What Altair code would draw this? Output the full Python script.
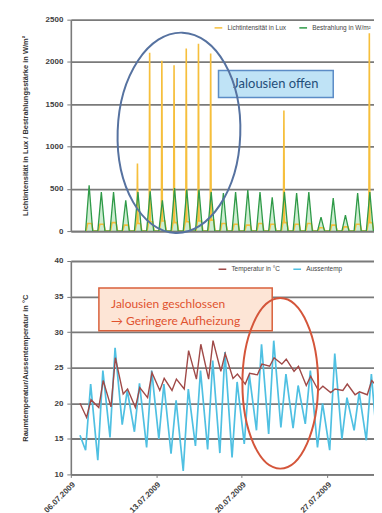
import altair as alt
import pandas as pd
from datetime import datetime, timedelta

START = datetime(2009, 7, 6)

# ---------------- top panel: light / irradiance (daily values) ----------------
light_days = list(range(1, 25))
irr_peak = [540, 460, 460, 365, 460, 470, 365, 510, 490, 490, 460, 450,
            460, 485, 460, 400, 460, 450, 460, 165, 390, 190, 450, 460]
lux_base = [90, 80, 100, 70, 90, 110, 120, 100, 110, 120, 130, 90,
            80, 70, 90, 80, 100, 80, 90, 40, 70, 50, 80, 100]
lux_spike_day = [5, 6, 7, 8, 9, 10, 11, 17, 24]
lux_spike_val = [800, 2110, 2015, 1960, 2160, 2215, 2100, 1427, 2340]

# ---------------- bottom panel: temperatures (daily min / max) ----------------
temp_days = list(range(1, 25))
out_min = [13.4, 12.0, 15.2, 17.0, 16.0, 13.8, 15.0, 12.9, 10.5, 14.0, 13.5, 13.0,
           12.4, 14.3, 16.2, 15.7, 16.6, 16.5, 17.1, 13.8, 13.4, 15.0, 16.2, 14.8]
out_max = [22.7, 24.6, 27.8, 21.8, 22.8, 24.6, 22.7, 20.4, 22.0, 24.6, 26.0, 27.2,
           23.0, 24.0, 28.3, 28.8, 24.1, 22.5, 24.6, 20.0, 27.0, 20.8, 21.5, 24.1]
in_min = [18.0, 19.4, 19.5, 21.3, 19.4, 20.8, 21.8, 21.8, 22.0, 23.4, 23.4, 24.5,
          23.5, 22.7, 24.0, 25.2, 25.5, 24.5, 22.5, 21.8, 21.5, 21.8, 21.2, 21.2]
in_max = [20.5, 23.2, 26.4, 22.0, 22.2, 24.3, 23.5, 23.4, 27.4, 28.3, 28.8, 27.0,
          24.1, 24.2, 25.5, 26.4, 26.2, 25.2, 23.8, 22.4, 22.0, 22.7, 21.6, 23.2]
out_start, in_start = 15.5, 20.0
out_tail, in_tail = 12.0, 22.0

LUX = "Lichtintensität in Lux"
IRR = "Bestrahlung in W/m²"
TIN = "Temperatur in °C"
TOUT = "Aussentemp"

tick_days = [6, 13, 20, 27]          # July 2009
top_ticks = [0, 500, 1000, 1500, 2000, 2500]
bot_ticks = [10, 15, 20, 25, 30, 35, 40]

# annotations (data coordinates)
ann_top = {"t": 16.8, "v": 1740, "t1": 12.1, "t2": 21.5, "v1": 1900, "v2": 1580,
           "text": "Jalousien offen"}
ann_bot = {"t": 3.3, "t1": 2.3, "t2": 16.5, "v1": 36.2, "v2": 30.2,
           "lines": ["Jalousien geschlossen", "→ Geringere Aufheizung"], "lv": [34.0, 31.6]}
ell_top = {"t": 8.86, "v": 1162}
ell_bot = {"t": 17.16, "v": 22.8}


def ts(d):
    return START + timedelta(days=d)


spikes = dict(zip(lux_spike_day, lux_spike_val))
lux_rows, irr_rows = [], []
for d, base, peak in zip(light_days, lux_base, irr_peak):
    sp = spikes.get(d, base)
    for off, val in [(0.25, 0), (0.375, base), (0.42, base), (0.458, sp),
                     (0.50, base), (0.70, base), (0.83, 0)]:
        lux_rows.append({"t": ts(d + off), "v": val, "s": LUX})
    for off, val in [(0.21, 0), (0.5, peak), (0.79, 0)]:
        irr_rows.append({"t": ts(d + off), "v": val, "s": IRR})
lux_df = pd.DataFrame(lux_rows)
irr_df = pd.DataFrame(irr_rows)

out_rows = [{"t": ts(0.75), "v": out_start, "s": TOUT}]
in_rows = [{"t": ts(0.75), "v": in_start, "s": TIN}]
for d, a, b, c, e in zip(temp_days, out_min, out_max, in_min, in_max):
    out_rows += [{"t": ts(d + 0.21), "v": a, "s": TOUT}, {"t": ts(d + 0.625), "v": b, "s": TOUT}]
    in_rows += [{"t": ts(d + 0.29), "v": c, "s": TIN}, {"t": ts(d + 0.65), "v": e, "s": TIN}]
out_rows.append({"t": ts(25.21), "v": out_tail, "s": TOUT})
in_rows.append({"t": ts(25.29), "v": in_tail, "s": TIN})
out_df = pd.DataFrame(out_rows)
in_df = pd.DataFrame(in_rows)

x_dom = [alt.DateTime(year=2009, month=7, date=6),
         alt.DateTime(year=2009, month=7, date=30, hours=20, minutes=10)]
x_scale = alt.Scale(domain=x_dom)

W, H1, H2 = 304, 212, 214
FONT = "Liberation Sans"

# ---------------- top panel ----------------
top_axis = alt.Axis(values=top_ticks, format="d", labelOverlap=False,
                    title="Lichtintensität in Lux / Bestrahlungsstärke in W/m²", titleX=-41)
top_yscale = alt.Scale(domain=[0, 2500])
top_xaxis = alt.Axis(labels=False, ticks=False, grid=False, title=None)
top_color = alt.Color("s:N", scale=alt.Scale(domain=[LUX, IRR], range=["#f6bf3c", "#2f9a48"]),
                      legend=alt.Legend(orient="none", legendX=143, legendY=3, direction="horizontal",
                                        title=None, symbolType="stroke", symbolSize=60,
                                        symbolStrokeWidth=1.5, labelFontSize=6.5, labelFont=FONT,
                                        labelColor="#444", columnPadding=10, labelLimit=300))
y_top = alt.Y("v:Q", scale=top_yscale, axis=top_axis)
x_top = alt.X("t:T", scale=x_scale, axis=top_xaxis)

irr_area = alt.Chart(irr_df).mark_area(color="#93d69b", opacity=0.45, clip=True).encode(x=x_top, y=y_top)
lux_line = alt.Chart(lux_df).mark_line(strokeWidth=1.6, clip=True).encode(x=x_top, y=y_top, color=top_color)
irr_line = alt.Chart(irr_df).mark_line(strokeWidth=1.3, clip=True).encode(x=x_top, y=y_top, color=top_color)

ann_top_df = pd.DataFrame([{"t": ts(ann_top["t"]), "v": ann_top["v"], "t1": ts(ann_top["t1"]),
                            "t2": ts(ann_top["t2"]), "v1": ann_top["v1"], "v2": ann_top["v2"],
                            "text": ann_top["text"]}])
box_top = alt.Chart(ann_top_df).mark_rect(fill="#bfe3f6", stroke="#5b8cc6", strokeWidth=1.5).encode(
    x=alt.X("t1:T", scale=x_scale, axis=top_xaxis), x2="t2:T",
    y=alt.Y("v1:Q", scale=top_yscale, axis=top_axis), y2="v2:Q")
txt_top = alt.Chart(ann_top_df).mark_text(font="Lato", fontSize=13, color="#1f4e79",
                                          align="center", baseline="middle").encode(
    x=x_top, y=y_top, text="text:N")
ell_top_df = pd.DataFrame([{"t": ts(ell_top["t"]), "v": ell_top["v"]}])
ellipse_top = alt.Chart(ell_top_df).mark_point(
    shape="M -0.612,0 A 0.612,1 0 1,1 0.612,0 A 0.612,1 0 1,1 -0.612,0 Z",
    size=40401, angle=2, stroke="#5672a0", strokeWidth=2, filled=False, opacity=1).encode(x=x_top, y=y_top)

top = alt.layer(irr_area, lux_line, irr_line, box_top, txt_top, ellipse_top).properties(width=W, height=H1)

# ---------------- bottom panel ----------------
bot_axis = alt.Axis(values=bot_ticks, format="d", labelOverlap=False,
                    title="Raumtemperatur/Aussentemperatur in °C", titleX=-41)
bot_yscale = alt.Scale(domain=[10, 40])
bot_xaxis = alt.Axis(values=[alt.DateTime(year=2009, month=7, date=d) for d in tick_days],
                     format="%d.%m.%Y", labelAngle=-45, labelAlign="right", labelBaseline="top",
                     grid=False, title=None, tickSize=3, labelPadding=3, labelOverlap=False)
bot_color = alt.Color("s:N", scale=alt.Scale(domain=[TIN, TOUT], range=["#a04a48", "#4fc0e2"]),
                      legend=alt.Legend(orient="none", legendX=147, legendY=3, direction="horizontal",
                                        title=None, symbolType="stroke", symbolSize=60,
                                        symbolStrokeWidth=1.5, labelFontSize=6.5, labelFont=FONT,
                                        labelColor="#444", columnPadding=10, labelLimit=300))
y_bot = alt.Y("v:Q", scale=bot_yscale, axis=bot_axis)
x_bot = alt.X("t:T", scale=x_scale, axis=bot_xaxis)

out_line = alt.Chart(out_df).mark_line(strokeWidth=1.7, clip=True).encode(x=x_bot, y=y_bot, color=bot_color)
in_line = alt.Chart(in_df).mark_line(strokeWidth=1.4, clip=True).encode(x=x_bot, y=y_bot, color=bot_color)

ann_bot_df = pd.DataFrame([{"t1": ts(ann_bot["t1"]), "t2": ts(ann_bot["t2"]),
                            "v1": ann_bot["v1"], "v2": ann_bot["v2"]}])
ann_bot_txt = pd.DataFrame([{"t": ts(ann_bot["t"]), "v": v, "text": s}
                            for s, v in zip(ann_bot["lines"], ann_bot["lv"])])
box_bot = alt.Chart(ann_bot_df).mark_rect(fill="#fde5d6", stroke="#d9603b", strokeWidth=1.5).encode(
    x=alt.X("t1:T", scale=x_scale, axis=bot_xaxis), x2="t2:T",
    y=alt.Y("v1:Q", scale=bot_yscale, axis=bot_axis), y2="v2:Q")
txt_bot = alt.Chart(ann_bot_txt).mark_text(font="Lato", fontSize=12, color="#e0522f",
                                           align="left", baseline="middle").encode(
    x=x_bot, y=y_bot, text="text:N")
ell_bot_df = pd.DataFrame([{"t": ts(ell_bot["t"]), "v": ell_bot["v"]}])
ellipse_bot = alt.Chart(ell_bot_df).mark_point(
    shape="M -0.444,0 A 0.444,1 0 1,1 0.444,0 A 0.444,1 0 1,1 -0.444,0 Z",
    size=29241, stroke="#d4553a", strokeWidth=2, filled=False, opacity=1).encode(x=x_bot, y=y_bot)

bottom = alt.layer(out_line, in_line, box_bot, txt_bot, ellipse_bot).properties(width=W, height=H2)

chart = alt.vconcat(top, bottom, spacing=20).resolve_scale(color="independent").resolve_legend(
    color="independent").properties(
    padding={"left": 13, "top": 7, "right": 0, "bottom": 0}, background="white"
).configure_view(stroke=None).configure_axis(
    labelFont=FONT, labelFontSize=8, labelFontWeight="bold", labelColor="#404040",
    titleFont=FONT, titleFontSize=7.5, titleFontWeight="bold", titleColor="#333333",
    gridColor="#7a7a7a", gridWidth=1.8, domainColor="#7a7a7a", domainWidth=1.6,
    tickColor="#7a7a7a", tickSize=4, labelPadding=4
)

chart.save("out.html", embed_options={"renderer": "svg", "actions": False})
